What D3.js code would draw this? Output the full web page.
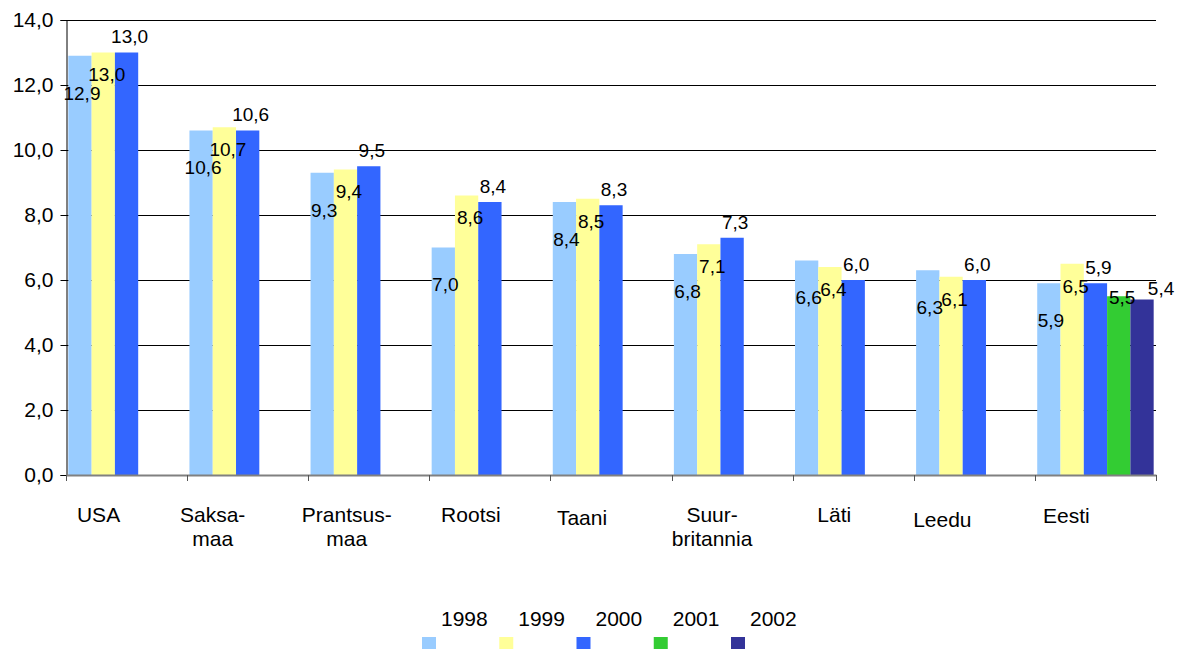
<!DOCTYPE html>
<html>
<head>
<meta charset="utf-8">
<script src="https://cdn.jsdelivr.net/npm/d3@7"></script>
<style>
  html, body { margin: 0; padding: 0; background: #fff; }
  svg { display: block; font-family: "Liberation Sans", Arial, Helvetica, sans-serif; }
</style>
</head>
<body>
<svg id="chart" width="1181" height="649"></svg>
<script>
// Countries (line breaks follow the wrapped axis labels)
const categories = ["USA", "Saksa-\nmaa", "Prantsus-\nmaa", "Rootsi", "Taani", "Suur-\nbritannia", "Läti", "Leedu", "Eesti"];
const years = ["1998", "1999", "2000", "2001", "2002"];

const values1998 = [12.9, 10.6, 9.3, 7.0, 8.4, 6.8, 6.6, 6.3, 5.9];
const values1999 = [13.0, 10.7, 9.4, 8.6, 8.5, 7.1, 6.4, 6.1, 6.5];
const values2000 = [13.0, 10.6, 9.5, 8.4, 8.3, 7.3, 6.0, 6.0, 5.9];
const values2001 = [null, null, null, null, null, null, null, null, 5.5];
const values2002 = [null, null, null, null, null, null, null, null, 5.4];

const yTickValues = [0, 2, 4, 6, 8, 10, 12, 14];

const seriesValues = [values1998, values1999, values2000, values2001, values2002];
const colors = ["#99CCFF", "#FFFF99", "#3366FF", "#33CC33", "#333399"];

// Value-label placement per series, relative to the bar top
const labelOffset = [
  { dx: 2, dy: 37 },
  { dx: 3.5, dy: 22 },
  { dx: 3, dy: -16 },
  { dx: 3.5, dy: 1 },
  { dx: 19, dy: -11 }
];
// Small horizontal / vertical shifts of the category captions
const captionShiftX = [-28, -35, -22, -19, -29, -20, -19, -32, -29];
const captionShiftY = [0, 0, 0, 0, 3, 0, 0, 5, 1];

const fmt = v => d3.format(".1f")(v).replace(".", ",");

const svg = d3.select("#chart");
const plotLeft = 66, plotRight = 1156, plotTop = 20, plotBottom = 475;

const x0 = d3.scaleBand().domain(categories).range([plotLeft, plotRight]).paddingInner(0).paddingOuter(0);
const x1 = d3.scaleBand().domain(years).range([0, x0.bandwidth()]).paddingInner(0).paddingOuter(0.1);
const y = d3.scaleLinear().domain([0, 14]).range([plotBottom, plotTop]);

// Horizontal gridlines
svg.append("g")
  .selectAll("line")
  .data(yTickValues.filter(v => v > 0))
  .join("line")
  .attr("x1", plotLeft).attr("x2", plotRight)
  .attr("y1", d => Math.round(y(d)) + 0.5).attr("y2", d => Math.round(y(d)) + 0.5)
  .attr("stroke", "#000").attr("stroke-width", 1);

// Bars
const rows = [];
seriesValues.forEach((vals, s) => {
  vals.forEach((v, c) => {
    if (v != null) rows.push({ s, c, v });
  });
});

svg.append("g")
  .selectAll("rect")
  .data(rows)
  .join("rect")
  .attr("x", d => x0(categories[d.c]) + x1(years[d.s]))
  .attr("y", d => y(d.v))
  .attr("width", x1.bandwidth())
  .attr("height", d => y(0) - y(d.v))
  .attr("fill", d => colors[d.s]);

// Y axis
const yAxis = d3.axisLeft(y).tickValues(yTickValues).tickSize(6).tickPadding(7).tickFormat(fmt);
const gy = svg.append("g").attr("transform", `translate(${plotLeft + 0.5},0)`).call(yAxis);
gy.select(".domain").attr("stroke", "#000");
gy.selectAll(".tick line").attr("stroke", "#000");
gy.selectAll(".tick text").attr("font-size", 21).attr("fill", "#000")
  .attr("font-family", "'Liberation Sans', Arial, sans-serif");

// X axis baseline and category ticks
const xAxis = d3.axisBottom(x0).tickSize(0).tickFormat("");
const gx = svg.append("g").attr("transform", `translate(0,${plotBottom})`).call(xAxis);
gx.select(".domain").attr("stroke", "#808080").attr("stroke-width", 2);
gx.selectAll(".tick").remove();
const boundaries = categories.map(c => x0(c)).concat([x0.range()[1]]);
gx.selectAll("line.sep")
  .data(boundaries)
  .join("line")
  .attr("class", "sep")
  .attr("x1", d => Math.round(d) + 0.5).attr("x2", d => Math.round(d) + 0.5)
  .attr("y1", 0).attr("y2", 6)
  .attr("stroke", "#555").attr("stroke-width", 1);

// Category captions
const caps = svg.append("g").attr("font-size", 21).attr("fill", "#000").attr("text-anchor", "middle");
categories.forEach((c, i) => {
  const cx = x0(c) + x0.bandwidth() / 2 + captionShiftX[i];
  const t = caps.append("text")
    .attr("x", cx)
    .attr("y", 522 + captionShiftY[i]);
  c.split("\n").forEach((line, k) => {
    t.append("tspan").attr("x", cx).attr("dy", k === 0 ? 0 : 24).text(line);
  });
});

// Value labels
svg.append("g")
  .attr("font-size", 19).attr("fill", "#000").attr("text-anchor", "middle")
  .selectAll("text")
  .data(rows)
  .join("text")
  .attr("x", d => x0(categories[d.c]) + x1(years[d.s]) + x1.bandwidth() / 2 + labelOffset[d.s].dx)
  .attr("y", d => y(d.v) + labelOffset[d.s].dy + 6.8)
  .text(d => fmt(d.v));

// Legend
const lx = d3.scaleLinear().domain([0, years.length - 1]).range([422, 731]);
const legend = svg.append("g").attr("font-size", 21).attr("fill", "#000");
years.forEach((yr, i) => {
  legend.append("rect")
    .attr("x", lx(i)).attr("y", 637)
    .attr("width", 14).attr("height", 12)
    .attr("fill", colors[i]);
  legend.append("text")
    .attr("x", lx(i) + 19).attr("y", 626)
    .text(yr);
});
</script>
</body>
</html>
